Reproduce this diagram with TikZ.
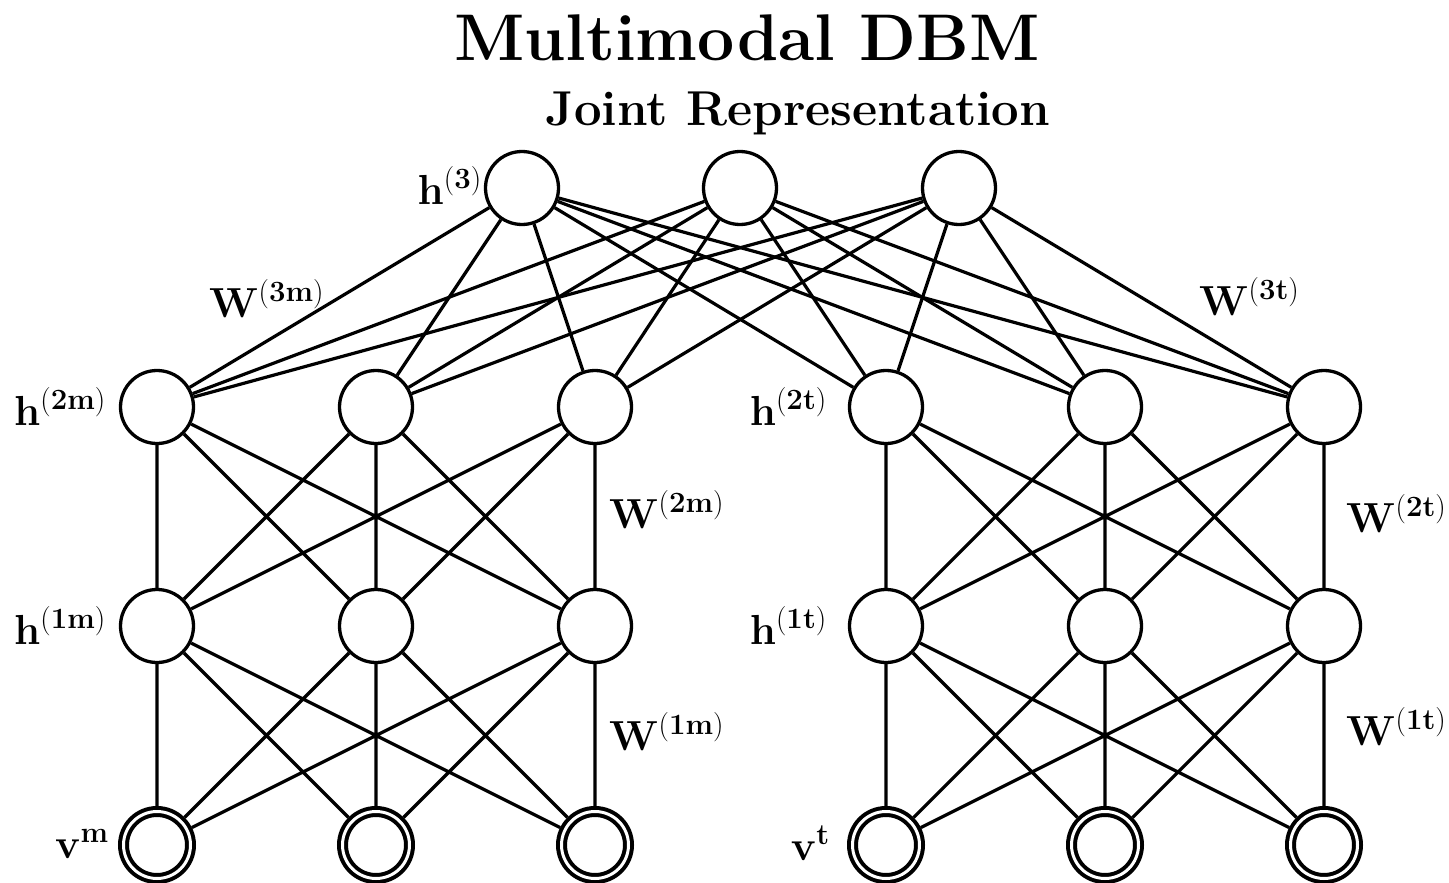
\RequirePackage{fix-cm}
\documentclass[tikz,border=0pt]{standalone}
\usepackage{amsmath, amssymb}
\usepackage{tikz}
\usetikzlibrary{calc, positioning}

\begin{document}
\begin{tikzpicture}[
		x=1pt, y=-1pt,
		neuron/.style={circle, draw, fill=white, line width=3.3pt, minimum size=73pt, inner sep=0pt},
		visible/.style={neuron, double, double distance=3pt, line width=4pt, minimum size=67pt, outer sep=5.5pt},
		lbl/.style={inner sep=0pt, font=\fontsize{42}{46}\selectfont},
		wire/.style={line width=3.2pt}
		]
		\useasboundingbox (0,0) rectangle (1449,883);

		% --- Titres ---
		\node[anchor=base, inner sep=0pt, font=\fontsize{66}{70}\selectfont\bfseries] (title) at (747,60) {Multimodal DBM};
		\node[anchor=base, inner sep=0pt, font=\fontsize{49}{52}\selectfont\bfseries] (joint) at (798,125) {Joint Representation};

		% --- Couche jointe ---
		\node[neuron] (J) at (522,188) {};
		\node[neuron] (K) at (740,188) {};
		\node[neuron] (L) at (959,188) {};

		% --- Image (à gauche) ---
		\node[neuron] (A) at (157,407) {};
		\node[neuron] (B) at (376,407) {};
		\node[neuron] (C) at (595,407) {};
		\node[neuron] (D) at (157,626) {};
		\node[neuron] (E) at (376,626) {};
		\node[neuron] (F) at (595,626) {};
		\node[visible] (G) at (157,845) {};
		\node[visible] (H) at (376,845) {};
		\node[visible] (I) at (595,845) {};

		% --- Texte (à droite), décalé de +729 en x ---
		\node[neuron] (A2) at ($(A)+(729,0)$) {};
		\node[neuron] (B2) at ($(B)+(729,0)$) {};
		\node[neuron] (C2) at ($(C)+(729,0)$) {};
		\node[neuron] (D2) at ($(D)+(729,0)$) {};
		\node[neuron] (E2) at ($(E)+(729,0)$) {};
		\node[neuron] (F2) at ($(F)+(729,0)$) {};
		\node[visible] (G2) at ($(G)+(729,0)$) {};
		\node[visible] (H2) at ($(H)+(729,0)$) {};
		\node[visible] (I2) at ($(I)+(729,0)$) {};

		% --- Connexions ---
		\draw[wire] (J) -- (A) (J) -- (B) (J) -- (C) (J) -- (A2) (J) -- (B2) (J) -- (C2);
		\draw[wire] (K) -- (A) (K) -- (B) (K) -- (C) (K) -- (A2) (K) -- (B2) (K) -- (C2);
		\draw[wire] (L) -- (A) (L) -- (B) (L) -- (C) (L) -- (A2) (L) -- (B2) (L) -- (C2);
		\draw[wire] (A) -- (D) (A) -- (E) (A) -- (F) (B) -- (D) (B) -- (E) (B) -- (F) (C) -- (D) (C) -- (E) (C) -- (F);
		\draw[wire] (D) -- (G) (D) -- (H) (D) -- (I) (E) -- (G) (E) -- (H) (E) -- (I) (F) -- (G) (F) -- (H) (F) -- (I);
		\draw[wire] (A2) -- (D2) (A2) -- (E2) (A2) -- (F2) (B2) -- (D2) (B2) -- (E2) (B2) -- (F2) (C2) -- (D2) (C2) -- (E2) (C2) -- (F2);
		\draw[wire] (D2) -- (G2) (D2) -- (H2) (D2) -- (I2) (E2) -- (G2) (E2) -- (H2) (E2) -- (I2) (F2) -- (G2) (F2) -- (H2) (F2) -- (I2);

		% --- Étiquettes ---
		\node[lbl, anchor=base east] (hJ) at (482,204) {$\mathbf{h}^{(\mathbf{3})}$};
		\node[lbl, anchor=base east] (hA) at (106,425) {$\mathbf{h}^{(\mathbf{2m})}$};
		\node[lbl, anchor=base east] (hD) at (106,644) {$\mathbf{h}^{(\mathbf{1m})}$};
		\node[lbl, anchor=base east] (vG) at (109,858) {$\mathbf{v}^{\mathbf{m}}$};
		\node[lbl, anchor=base east] (hA2) at (827,425) {$\mathbf{h}^{(\mathbf{2t})}$};
		\node[lbl, anchor=base east] (hD2) at (827,644) {$\mathbf{h}^{(\mathbf{1t})}$};
		\node[lbl, anchor=base east] (vG2) at (830,860) {$\mathbf{v}^{\mathbf{t}}$};
		\node[lbl, anchor=base west] (w3m) at (209,317) {$\mathbf{W}^{(\mathbf{3m})}$};
		\node[lbl, anchor=base west] (w3t) at (1199,315) {$\mathbf{W}^{(\mathbf{3t})}$};
		\node[lbl, anchor=base west] (w2m) at (609,528) {$\mathbf{W}^{(\mathbf{2m})}$};
		\node[lbl, anchor=base west] (w1m) at (609,750) {$\mathbf{W}^{(\mathbf{1m})}$};
		\node[lbl, anchor=base west] (w2t) at (1346,532) {$\mathbf{W}^{(\mathbf{2t})}$};
		\node[lbl, anchor=base west] (w1t) at (1346,745) {$\mathbf{W}^{(\mathbf{1t})}$};

	\end{tikzpicture}
\end{document}
